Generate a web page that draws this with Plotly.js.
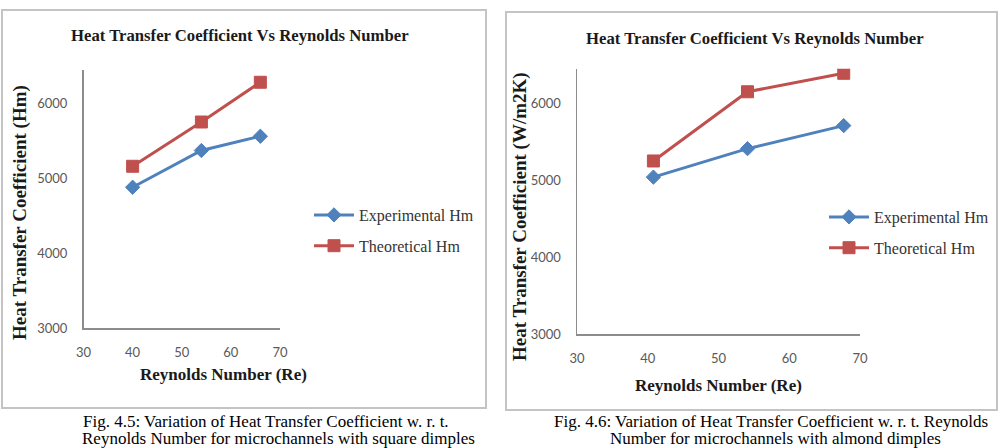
<!DOCTYPE html>
<html>
<head>
<meta charset="utf-8">
<script src="https://cdn.plot.ly/plotly-3.0.1.min.js"></script>
<style>
  html, body { margin: 0; padding: 0; background: #ffffff; }
  #chart { width: 1008px; height: 448px; }
</style>
</head>
<body>
<div id="chart"></div>
<script>
// Reynolds numbers and heat transfer coefficients (Hm) for the two dimple shapes
const reSquare = [40, 54, 66];
const expSquare = [4880, 5370, 5560];
const theoSquare = [5160, 5750, 6280];

const reAlmond = [40.8, 54.1, 67.7];
const expAlmond = [5040, 5410, 5710];
const theoAlmond = [5250, 6150, 6390];

const seriesNames = ['Experimental Hm', 'Theoretical Hm'];
const xTicks = [30, 40, 50, 60, 70];
const yTicks = [3000, 4000, 5000, 6000];

const chartTitle = 'Heat Transfer Coefficient Vs Reynolds Number';
const xTitle = 'Reynolds Number (Re)';
const yTitleSquare = 'Heat Transfer Coefficient (Hm)';
const yTitleAlmond = 'Heat Transfer Coefficient (W/m2K)';
const captionSquare = ['Fig. 4.5: Variation of Heat Transfer Coefficient w. r. t.',
                       'Reynolds Number for microchannels with square dimples'];
const captionAlmond = ['Fig. 4.6: Variation of Heat Transfer Coefficient w. r. t. Reynolds',
                       'Number for microchannels with almond dimples'];

const W = 1008, H = 448;
const px = v => v / W;          // horizontal pixel -> paper
const py = v => 1 - v / H;      // vertical pixel -> paper

const BLUE = '#4F81BD', RED = '#C0504D';
const SERIF = 'Liberation Serif, Times New Roman, serif';
const TICKFONT = { family: 'Lato, Carlito, sans-serif', size: 13, color: '#595959' };

function series(x, y, name, color, symbol, size, xa, ya, legend) {
  return {
    type: 'scatter', mode: 'lines+markers', x: x, y: y, name: name,
    xaxis: xa, yaxis: ya, legend: legend, legendgroup: legend + name,
    line: { color: color, width: 3 },
    marker: { color: color, symbol: symbol, size: size, line: { color: color, width: 1 } }
  };
}

const data = [
  series(reSquare, expSquare, seriesNames[0], BLUE, 'diamond', 11, 'x', 'y', 'legend'),
  series(reSquare, theoSquare, seriesNames[1], RED, 'square', 12, 'x', 'y', 'legend'),
  series(reAlmond, expAlmond, seriesNames[0], BLUE, 'diamond', 11, 'x2', 'y2', 'legend2'),
  series(reAlmond, theoAlmond, seriesNames[1], RED, 'square', 12, 'x2', 'y2', 'legend2')
];

function xAxis(d0, d1, anchor) {
  return {
    domain: [d0, d1], anchor: anchor, range: [30, 70],
    tickvals: xTicks, ticks: '', ticklabelstandoff: 12,
    showline: true, linecolor: '#8c8c8c', linewidth: 1.5,
    showgrid: false, zeroline: false, tickfont: TICKFONT, fixedrange: true
  };
}
function yAxis(d0, d1, anchor) {
  return {
    domain: [d0, d1], anchor: anchor, range: [3000, 6450],
    tickvals: yTicks, ticks: '', ticklabelstandoff: 12,
    showline: true, linecolor: '#8c8c8c', linewidth: 1.5,
    showgrid: false, zeroline: false, tickfont: TICKFONT, fixedrange: true
  };
}

function legendAt(xPix, yPix) {
  return {
    x: px(xPix), y: py(yPix), xanchor: 'left', yanchor: 'top',
    bgcolor: 'rgba(0,0,0,0)', borderwidth: 0,
    font: { family: SERIF, size: 16, color: '#333333' },
    itemwidth: 40, traceorder: 'grouped', tracegroupgap: 7
  };
}

function text(t, xPix, yPix, size, opts) {
  return Object.assign({
    text: t, xref: 'paper', yref: 'paper', x: px(xPix), y: py(yPix),
    xanchor: 'center', yanchor: 'middle', showarrow: false,
    font: { family: SERIF, size: size, color: '#1a1a1a' }
  }, opts || {});
}
const bold = s => '<b>' + s + '</b>';
const captionFont = { family: SERIF, size: 17, color: '#000000' };

const annotations = [
  text(bold(chartTitle), 240, 35, 16.7),
  text(bold(chartTitle), 755, 38, 16.7),
  text(bold(xTitle), 223, 374, 17),
  text(bold(xTitle), 718, 385, 17),
  text(bold(yTitleSquare), 20, 213, 19, { textangle: -90 }),
  text(bold(yTitleAlmond), 520, 217, 19, { textangle: -90 }),
  text(captionSquare[0], 266, 421, 17, { font: captionFont }),
  text(captionSquare[1], 278, 438, 17, { font: captionFont }),
  text(captionAlmond[0], 771, 421, 17, { font: captionFont }),
  text(captionAlmond[1], 775, 438, 17, { font: captionFont })
];

const frame = (x0, y0, x1, y1) => ({
  type: 'rect', xref: 'paper', yref: 'paper',
  x0: px(x0), x1: px(x1), y0: py(y1), y1: py(y0),
  line: { color: '#c4c4c4', width: 2 }, fillcolor: 'rgba(0,0,0,0)', layer: 'below'
});

const layout = {
  width: W, height: H,
  margin: { l: 0, r: 0, t: 0, b: 0, pad: 0 },
  paper_bgcolor: '#ffffff', plot_bgcolor: 'rgba(0,0,0,0)',
  showlegend: true,
  xaxis: xAxis(px(83.5), px(280), 'y'),
  yaxis: yAxis(py(328.3), py(69.5), 'x'),
  xaxis2: xAxis(px(577), px(860), 'y2'),
  yaxis2: yAxis(py(334), py(68.7), 'x2'),
  legend: legendAt(309, 198),
  legend2: legendAt(824, 200),
  shapes: [frame(2, 10, 486, 408), frame(506, 12, 997, 410)],
  annotations: annotations
};

Plotly.newPlot('chart', data, layout, { staticPlot: true, displayModeBar: false });
</script>
</body>
</html>
